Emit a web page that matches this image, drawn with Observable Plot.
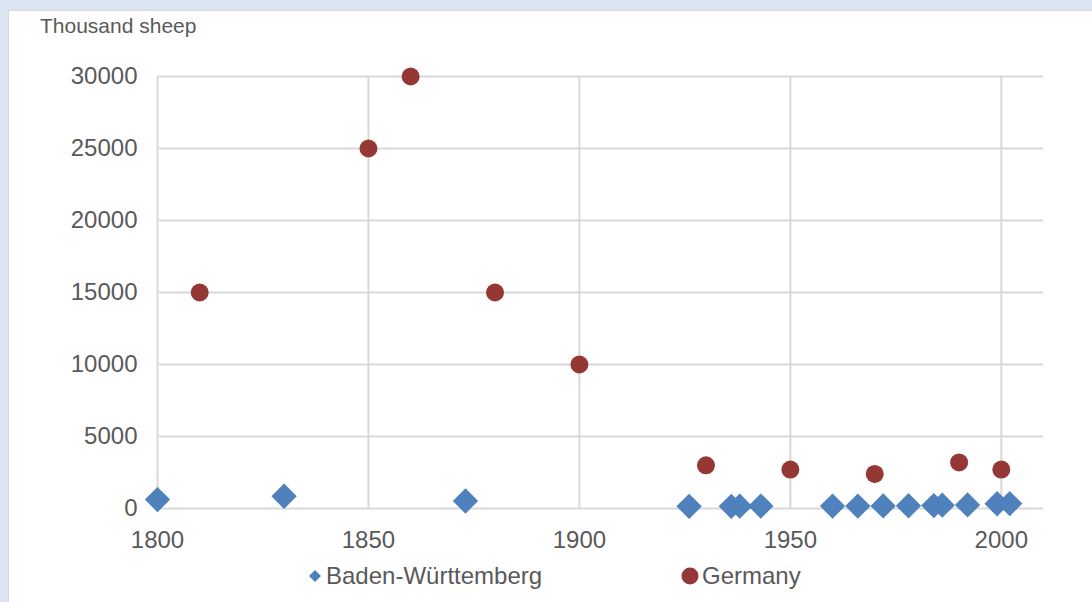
<!DOCTYPE html>
<html>
<head>
<meta charset="utf-8">
<script src="https://cdn.jsdelivr.net/npm/d3@7"></script>
<script src="https://cdn.jsdelivr.net/npm/@observablehq/plot@0.6"></script>
<style>
  html, body { margin: 0; padding: 0; background: #dce6f2; width: 1092px; height: 602px; overflow: hidden; font-family: "Liberation Sans", Arial, sans-serif; }
  #panel { position: absolute; left: 8px; top: 10px; width: 1084px; height: 592px; background: #fff; border-left: 1px solid #d9d9d9; border-top: 1px solid #d9d9d9; box-sizing: border-box; }
  #chart { position: absolute; left: 0; top: 0; }
  #title { position: absolute; left: 40px; top: 14px; font-size: 21px; color: #595959; white-space: nowrap; }
  .leg { position: absolute; top: 562px; font-size: 24px; color: #595959; white-space: nowrap; display: flex; align-items: center; }
  .leg svg { margin-right: 2px; }
</style>
</head>
<body>
<div id="panel"></div>
<div id="chart"></div>
<div id="title">Thousand sheep</div>
<div class="leg" id="leg1" style="left:307px"><svg width="16" height="16"><path d="M8,2L14,8L8,14L2,8Z" fill="#4f81bd"/></svg><span style="margin-left:1px">Baden-Württemberg</span></div>
<div class="leg" id="leg2" style="left:680px"><svg width="20" height="20"><circle cx="10" cy="10" r="8.5" fill="#953735"/></svg>Germany</div>
<script>
const seriesNames = ["Baden-Württemberg", "Germany"];
const bwYears = [1800, 1830, 1873, 1926, 1936, 1938, 1943, 1960, 1966, 1972, 1978, 1984, 1986, 1992, 1999, 2002];
const bwValues = [620, 850, 520, 150, 150, 160, 170, 170, 170, 180, 190, 200, 230, 250, 330, 340];
const deYears = [1810, 1850, 1860, 1880, 1900, 1930, 1950, 1970, 1990, 2000];
const deValues = [15000, 25000, 30000, 15000, 10000, 3000, 2700, 2400, 3200, 2700];
const xTicks = [1800, 1850, 1900, 1950, 2000];
const yTicks = [0, 5000, 10000, 15000, 20000, 25000, 30000];

const bw = bwYears.map((y, i) => ({year: y, value: bwValues[i]}));
const de = deYears.map((y, i) => ({year: y, value: deValues[i]}));

const chart = Plot.plot({
  width: 1092,
  height: 560,
  marginLeft: 157,
  marginRight: 49,
  marginTop: 76,
  marginBottom: 52,
  style: { fontFamily: "Liberation Sans, Arial, sans-serif", fontSize: "24px", color: "#595959", background: "transparent", overflow: "visible" },
  x: { domain: [1800, 2010], ticks: xTicks, tickFormat: "d", tickSize: 0, tickPadding: 22, label: null },
  y: { domain: [0, 30000], ticks: yTicks, tickFormat: "d", tickSize: 0, tickPadding: 20, label: null },
  marks: [
    Plot.ruleY(yTicks, { stroke: "#d9d9d9", strokeWidth: 2 }),
    Plot.ruleX(xTicks, { stroke: "#d9d9d9", strokeWidth: 2 }),
    Plot.axisX({ ticks: xTicks, tickFormat: "d", tickSize: 0, tickPadding: 22, fill: "#595959", fontSize: 24, label: null }),
    Plot.axisY({ ticks: yTicks, tickFormat: "d", tickSize: 0, tickPadding: 20, fill: "#595959", fontSize: 24, label: null }),
    Plot.dot(bw, { x: "year", y: "value", symbol: "diamond2", r: 11.4, fill: "#4f81bd", stroke: "none" }),
    Plot.dot(de, { x: "year", y: "value", symbol: "circle", r: 9, fill: "#953735", stroke: "none" })
  ]
});
document.getElementById("chart").appendChild(chart);
</script>
</body>
</html>
